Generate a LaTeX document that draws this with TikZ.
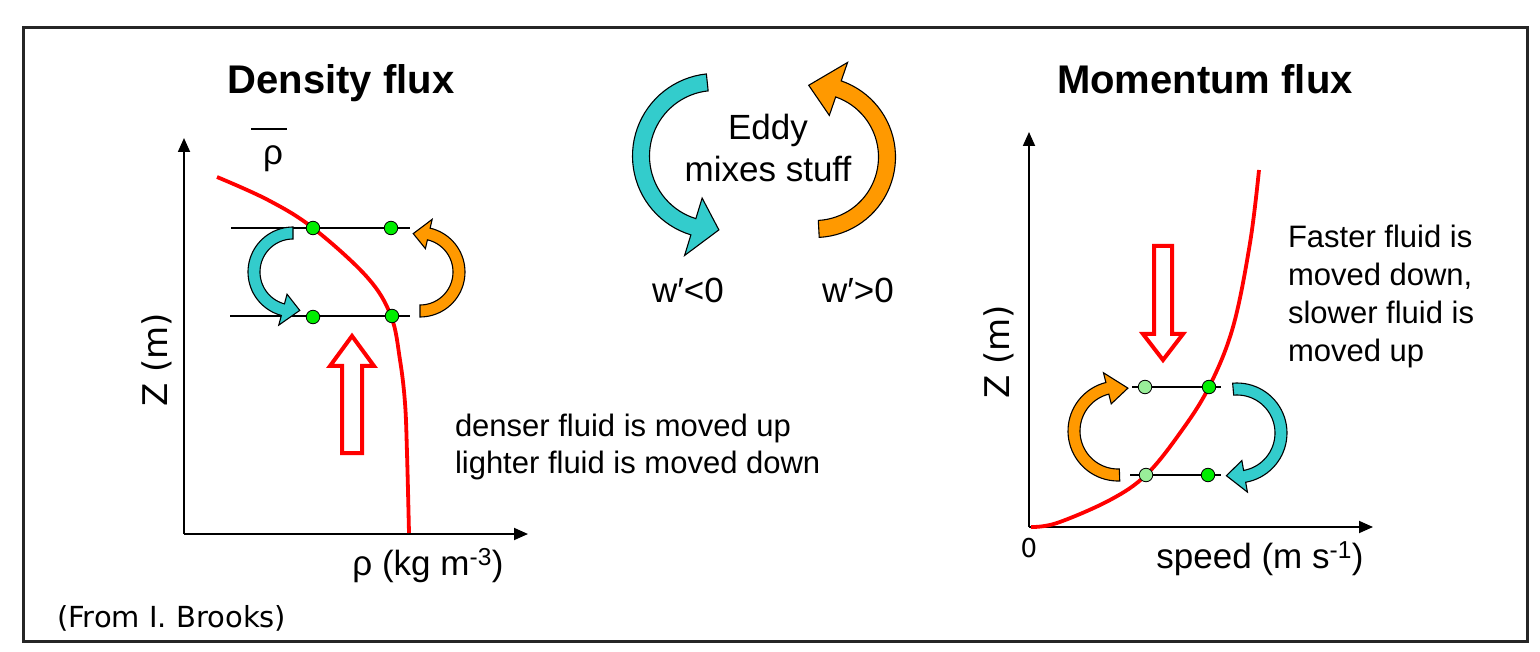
\documentclass[tikz,border=0pt]{standalone}
\usepackage{fontspec}
\setmainfont{Liberation Sans}
\newfontfamily\tah{DejaVu Sans}
\usetikzlibrary{arrows.meta}
\definecolor{eddyteal}{HTML}{33CCCC}
\definecolor{eddyorange}{HTML}{FF9900}
\definecolor{dotgreen}{HTML}{00EE00}
\definecolor{dotlight}{HTML}{99EE99}
\newcommand{\fs}[2]{\fontsize{#1}{#2}\selectfont}
% fat curved arrow: colour, cx, cy, r, start angle, head-base angle, tip angle, half width, head half width
\newcommand{\fatarc}[9]{%
  \filldraw[fill=#1, draw=black, line width=1.1pt, line join=miter]
   plot[domain=#5:#6, samples=40] ({#2+(#4+#8)*cos(\x)},{#3+(#4+#8)*sin(\x)})
   -- ({#2+(#4+#9)*cos(#6)},{#3+(#4+#9)*sin(#6)})
   -- ({#2+#4*cos(#7)},{#3+#4*sin(#7)})
   -- ({#2+(#4-#9)*cos(#6)},{#3+(#4-#9)*sin(#6)})
   -- plot[domain=#6:#5, samples=40] ({#2+(#4-#8)*cos(\x)},{#3+(#4-#8)*sin(\x)})
   -- cycle;}
\begin{document}
\begin{tikzpicture}[x=1pt,y=-1pt,
  txt/.style={inner sep=0pt, outer sep=0pt},
  axis/.style={line width=1.8pt, -{Triangle[length=14pt,width=12pt]}},
  hline/.style={line width=1.8pt, black},
  curve/.style={line width=3.8pt, red},
  hollow/.style={draw=red, line width=4pt, fill=white, line join=miter},
  dotg/.style={circle, fill=dotgreen, draw=black, line width=0.8pt, minimum size=13.5pt, inner sep=0pt},
  dotl/.style={dotg, fill=dotlight}]
\useasboundingbox (0,0) rectangle (1540,652);
\fill[white] (0,0) rectangle (1540,652);
\draw[line width=3pt, draw=black!85] (23,28) rectangle (1527,641);

% titles
\node[txt, anchor=base, font=\fs{40}{48}\bfseries] (t1) at (341,94) {Density flux};
\node[txt, anchor=base, font=\fs{40}{48}\bfseries] (t2) at (1205,94) {Momentum flux};

% ---------- left plot ----------
\coordinate (O1) at (184,534);
\coordinate (Y1) at (184,138);
\coordinate (X1) at (528,534);
\draw[axis] (O1) -- (Y1);
\draw[axis] (O1) -- (X1);
\node[txt, rotate=90, font=\tah\fs{34}{40}] (zl1) at (157,360) {Z (m)};
\node[txt, anchor=base, font=\fs{35}{42}] (xl1) at (428,575) {ρ (kg m\textsuperscript{-3})};
\node[txt, anchor=base, font=\fs{35}{42}] (rhob) at (273,165) {ρ};
\draw[line width=2.5pt] (251,129) -- (287,129);

\coordinate (L1a) at (231,228); \coordinate (L1b) at (410,228);
\coordinate (L2a) at (230,316); \coordinate (L2b) at (410,316);
\draw[hline] (L1a) -- (L1b);
\draw[hline] (L2a) -- (L2b);
\draw[curve] plot[smooth, tension=0.6] coordinates {(217,177) (268,200) (313,228) (367,277) (391,316) (400,360) (405,403) (407,453) (409,533)};
\node[dotg] (d1) at (313,228) {};
\node[dotg] (d2) at (391,228) {};
\node[dotg] (d3) at (313,317) {};
\node[dotg] (d4) at (392,316) {};
\fatarc{eddyteal}{293}{272}{39}{270}{105}{80}{6}{16}
\fatarc{eddyorange}{420}{272}{39}{90}{-77}{-100}{6}{15}
\draw[hollow] (342,453) -- (342,366) -- (330,366) -- (352,336) -- (374,366) -- (362,366) -- (362,453) -- cycle;
\node[txt, anchor=base west, align=left, font=\fs{31}{37}] (dtxt) at (455,473) {denser fluid is moved up\\lighter fluid is moved down};

% ---------- centre ----------
\fatarc{eddyteal}{715}{156}{74}{264}{107}{87}{8.5}{30}
\fatarc{eddyorange}{815}{157}{72}{87}{-71}{-95}{8.5}{28}
\node[txt, anchor=base, align=center, font=\fs{35}{42}] (eddy) at (768,182) {Eddy\\mixes stuff};
\node[txt, anchor=base, font=\fs{35}{42}] (wn) at (688,303) {w′<0};
\node[txt, anchor=base, font=\fs{35}{42}] (wp) at (858,303) {w′>0};

% ---------- right plot ----------
\coordinate (O2) at (1029,527);
\coordinate (Y2) at (1029,132);
\coordinate (X2) at (1373,527);
\draw[axis] (O2) -- (Y2);
\draw[axis] (O2) -- (X2);
\node[txt, rotate=90, font=\tah\fs{34}{40}] (zl2) at (999,352) {Z (m)};
\node[txt, font=\tah\fs{26}{30}] (zero) at (1029,548) {0};
\node[txt, anchor=base, font=\fs{35}{42}] (xl2) at (1260,568) {speed (m s\textsuperscript{-1})};

\coordinate (R1a) at (1132,387); \coordinate (R1b) at (1221,387);
\coordinate (R2a) at (1130,475); \coordinate (R2b) at (1221,475);
\draw[hline] (R1a) -- (R1b);
\draw[hline] (R2a) -- (R2b);
\draw[curve] plot[smooth, tension=0.6] coordinates {(1031,527) (1057,523) (1110,500) (1146,475) (1180,433) (1209,387) (1233,327) (1250,243) (1259,170)};
\node[dotl] (e1) at (1145,387) {};
\node[dotg] (e2) at (1209,387) {};
\node[dotl] (e3) at (1146,475) {};
\node[dotg] (e4) at (1208,475) {};
\fatarc{eddyorange}{1118}{431}{44}{88}{256}{283}{6}{16}
\fatarc{eddyteal}{1237}{433}{44}{-95}{80}{104}{6}{16}
\draw[hollow] (1154,246) -- (1154,334) -- (1143,334) -- (1163,360) -- (1183,334) -- (1172,334) -- (1172,246) -- cycle;
\node[txt, anchor=base west, align=left, font=\fs{31}{38}] (ftxt) at (1288,362) {Faster fluid is\\moved down,\\slower fluid is\\moved up};

\node[txt, anchor=base west, font=\tah\fs{29}{34}] (src) at (57,627) {(From I. Brooks)};
\end{tikzpicture}
\end{document}
